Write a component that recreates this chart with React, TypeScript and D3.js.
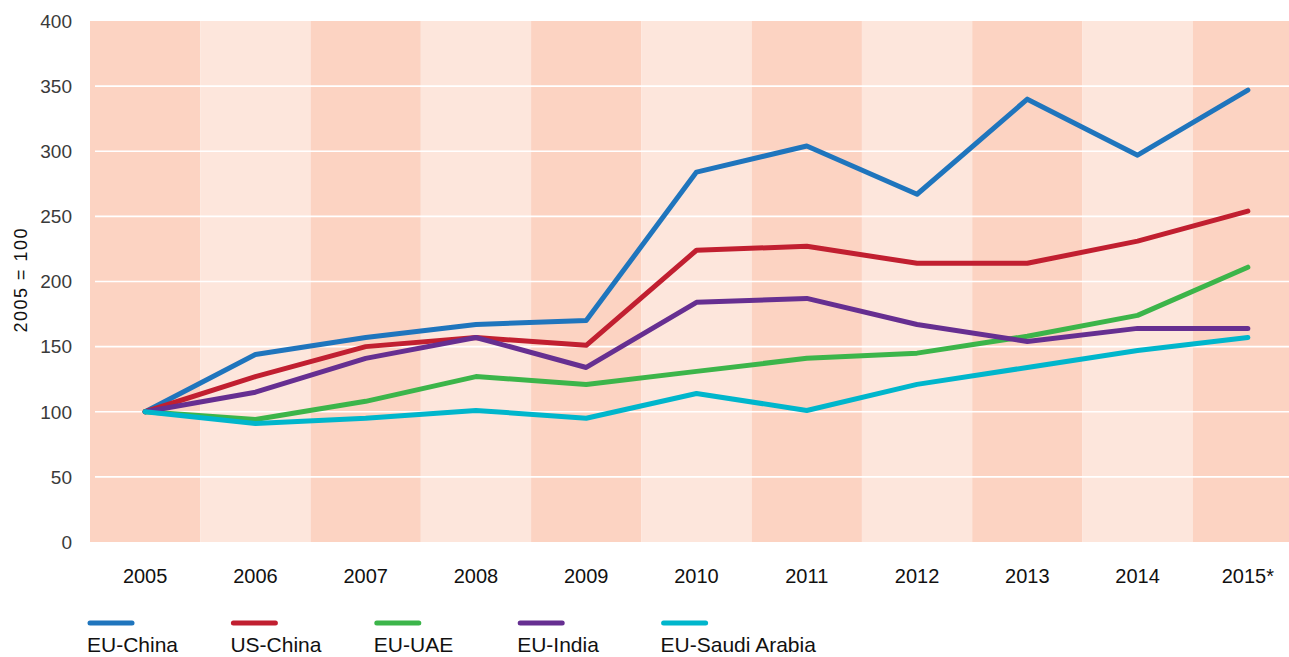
import React from "react";
import * as d3 from "d3";

const years = ["2005", "2006", "2007", "2008", "2009", "2010", "2011", "2012", "2013", "2014", "2015*"];
const yTicks = [0, 50, 100, 150, 200, 250, 300, 350, 400];
const euChina = [100, 144, 157, 167, 170, 284, 304, 267, 340, 297, 347];
const usChina = [100, 127, 150, 157, 151, 224, 227, 214, 214, 231, 254];
const euUae = [100, 94, 108, 127, 121, 131, 141, 145, 158, 174, 211];
const euIndia = [100, 115, 141, 157, 134, 184, 187, 167, 154, 164, 164];
const euSaudi = [100, 91, 95, 101, 95, 114, 101, 121, 134, 147, 157];

const seriesNames = ["EU-China", "US-China", "EU-UAE", "EU-India", "EU-Saudi Arabia"];
const seriesColors = ["#1f75bd", "#c11f30", "#3cb54a", "#662f91", "#00b6cc"];
const seriesValues = [euChina, usChina, euUae, euIndia, euSaudi];

const W = 1289;
const H = 657;
const left = 90;
const right = 1303;
const top = 21;
const bottom = 542;
const font = "'Liberation Sans', Arial, Helvetica, sans-serif";

export default function App() {
  const x = d3.scaleBand<string>().domain(years).range([left, right]).padding(0);
  const y = d3.scaleLinear().domain([0, 400]).range([bottom, top]);
  const cx = (i: number) => (x(years[i]) as number) + x.bandwidth() / 2;
  const line = d3
    .line<number>()
    .x((_, i) => cx(i))
    .y((d) => y(d))
    .curve(d3.curveLinear);

  return (
    <div style={{ position: "absolute", left: 0, top: 0, width: W, height: H, background: "#fff", overflow: "hidden" }}>
      <svg width={W} height={H} style={{ display: "block" }}>
        {years.map((yr, i) => (
          <rect
            key={yr}
            x={x(yr)}
            y={top}
            width={x.bandwidth()}
            height={bottom - top}
            fill={i % 2 === 0 ? "#fcd3c2" : "#fde6dc"}
          />
        ))}
        {yTicks
          .filter((t) => t > 0 && t < 400)
          .map((t) => (
            <line key={t} x1={95} x2={right} y1={y(t)} y2={y(t)} stroke="#ffffff" strokeWidth={1.6} />
          ))}
        {yTicks.map((t) => (
          <text
            key={t}
            x={72}
            y={y(t)}
            dy="0.36em"
            textAnchor="end"
            fontFamily={font}
            fontSize={19}
            fill="#3a3a3a"
          >
            {t}
          </text>
        ))}
        <text
          transform={`translate(27,${(top + bottom) / 2 - 1}) rotate(-90)`}
          textAnchor="middle"
          fontFamily={font}
          fontSize={18}
          fill="#111"
          textLength={104}
          lengthAdjust="spacing"
        >
          2005 = 100
        </text>
        {years.map((yr, i) => (
          <text
            key={yr}
            x={cx(i)}
            y={583}
            textAnchor="middle"
            fontFamily={font}
            fontSize={20}
            fill="#111"
          >
            {yr}
          </text>
        ))}
        {seriesValues.map((vals, k) => (
          <path
            key={seriesNames[k]}
            d={line(vals) as string}
            fill="none"
            stroke={seriesColors[k]}
            strokeWidth={5}
            strokeLinejoin="round"
            strokeLinecap="round"
          />
        ))}
        {seriesNames.map((n, k) => {
          const lx = 88 + k * 143.4;
          return (
            <g key={n}>
              <line x1={lx + 2} x2={lx + 44} y1={623} y2={623} stroke={seriesColors[k]} strokeWidth={5} strokeLinecap="round" />
              <text x={lx - 1} y={652} fontFamily={font} fontSize={21} fill="#111">
                {n}
              </text>
            </g>
          );
        })}
      </svg>
    </div>
  );
}
